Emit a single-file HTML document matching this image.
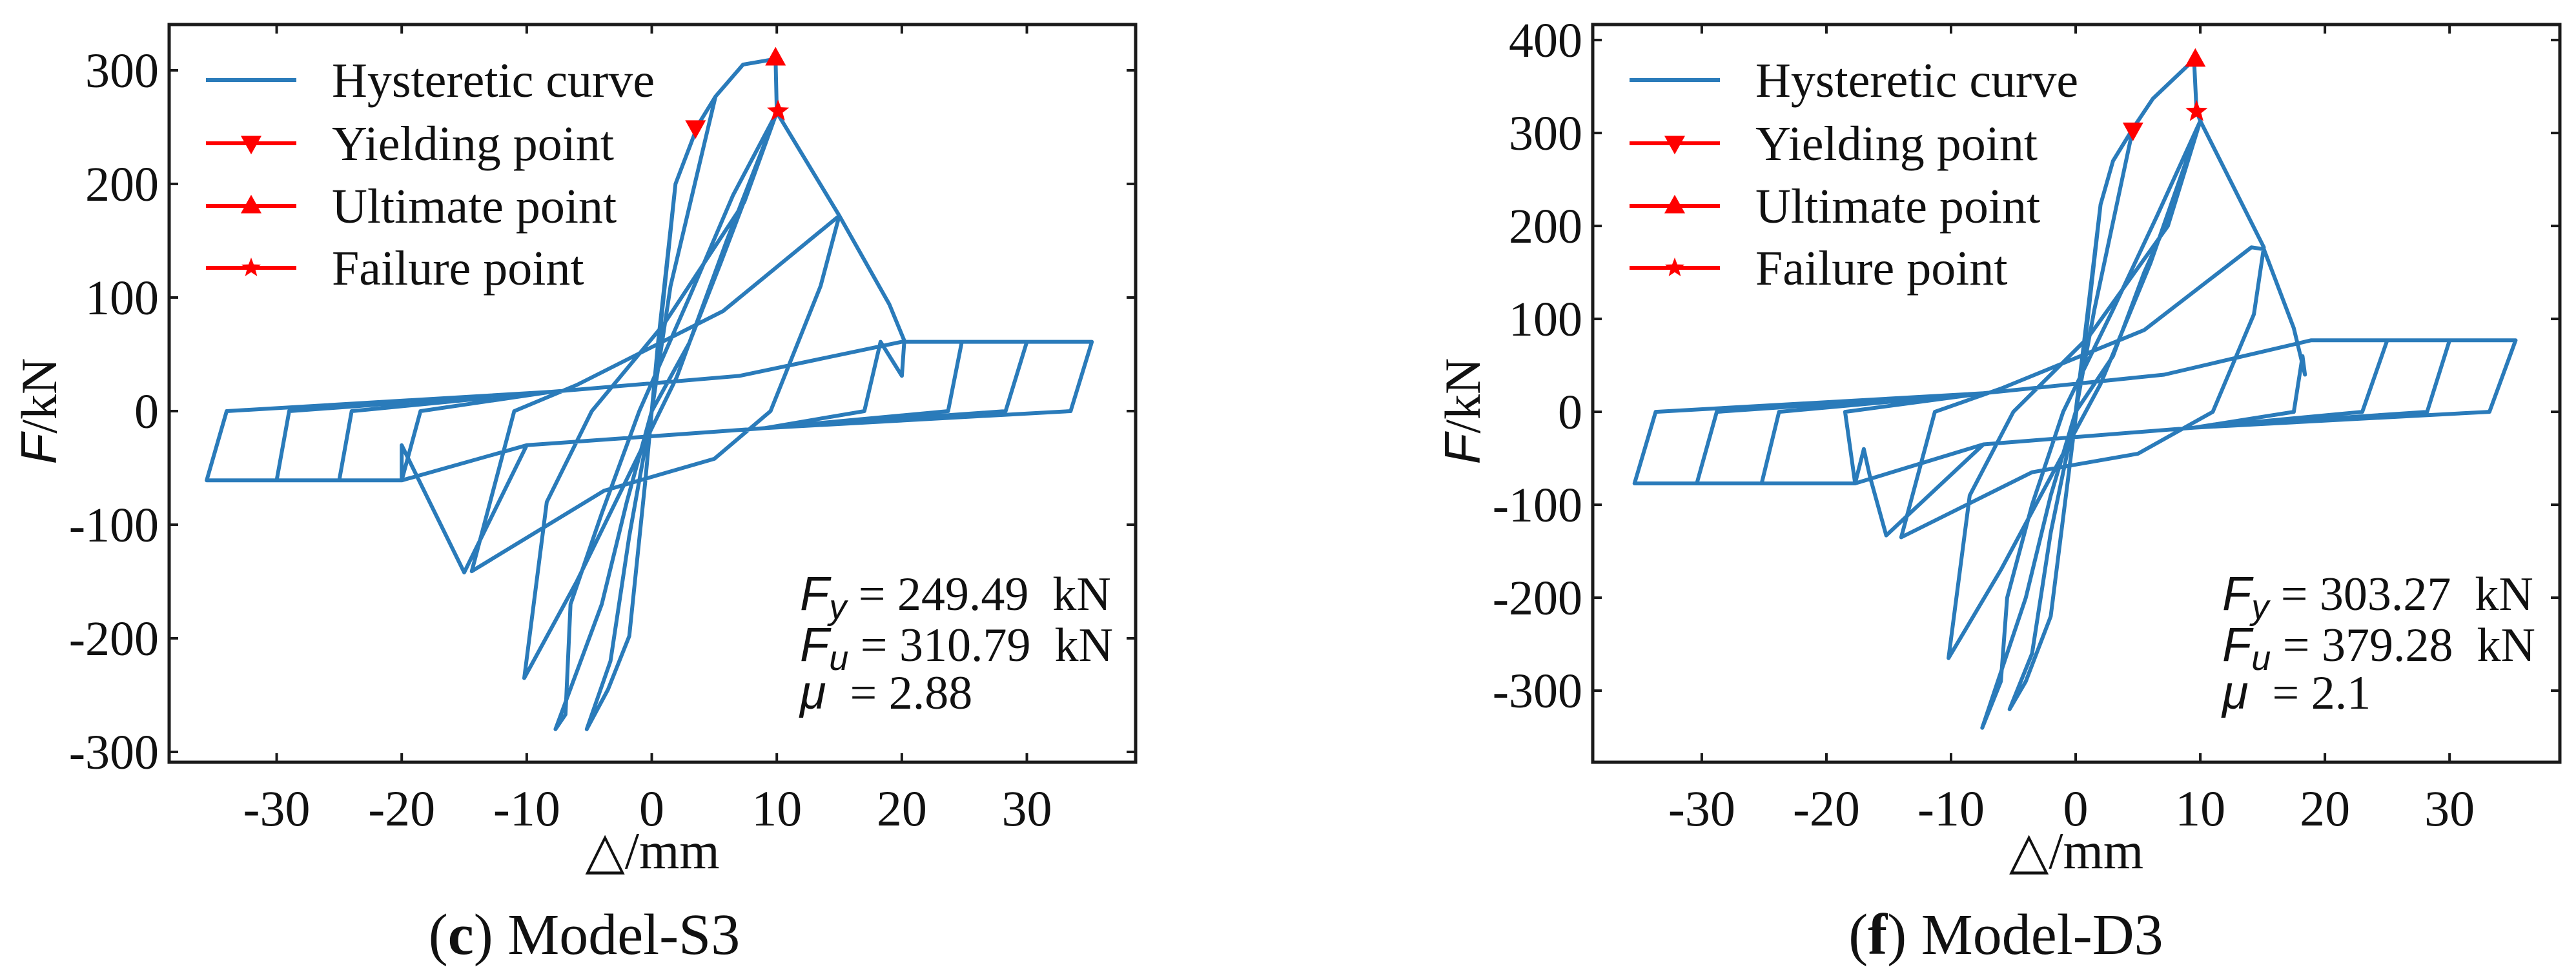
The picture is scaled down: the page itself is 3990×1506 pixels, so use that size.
<!DOCTYPE html>
<html><head><meta charset="utf-8">
<style>
html,body{margin:0;padding:0;background:#fff;}
svg{display:block;}
text{font-family:"Liberation Serif",serif;fill:#111;}
</style></head>
<body>
<svg id="fig" width="3990" height="1506" viewBox="0 0 3990 1506" xmlns="http://www.w3.org/2000/svg"></svg>
<script>
// ---- data ----
const xTickLabels = [-30, -20, -10, 0, 10, 20, 30];
const s3YTicks = [-300, -200, -100, 0, 100, 200, 300];
const d3YTicks = [-300, -200, -100, 0, 100, 200, 300, 400];

const s3Disp = [0,1.9,3.7,5.1, 1.5,0,-1.8,-3.3,-5.2, -3.5,-1.8,-0.5,0.5,1.9,3.7,5.1,7.3,9.9,10,
 7.4,5.5,3,0,-2,-4,-7.7, -6.9,-6.5,-4,-1,3,6.5,10, 6,2,-2,-6,-10.2, -8.4,-4.8,1,7.4,10,
 15,13.5,9.5,5,-3.8,-14.4, -11,-6,5.7,15, 19,20.2,20,18.3,17,9,-10,-15,-17.5,-20,-20,
 -18.5,-8,7,20,24.8,23.7,9,-10,-20,-25,-24,-8,7,20,30,28.3,9,-10,-20,-30,-29,-8,7,20,35.2,33.5,9,-10,-20,-35.6,-34,-8,7,20];
const s3Force = [0,200,252,277, 110,0,-110,-220,-280, -245,-198,-60,60,200,252,277,305,310,263,
 185,130,60,0,-80,-170,-280, -267,-170,-90,0,100,190,263, 150,30,-60,-150,-235, -80,0,77,184,263,
 172,110,0,-42,-70,-141, 0,23,88,172, 94,62,31,61,0,-15,-30,-142,-86,-30,-61,
 0,17,31,61,61,0,-15,-30,-61,-61,0,17,31,61,61,0,-15,-30,-61,-61,0,17,31,61,61,0,-15,-30,-61,-61,0,17,31,61];

const d3Disp = [0,2,3,4.6, 1.5,0,-2,-3.5,-5.3, -4,-2,-0.5,0.8,2,3,4.6,6.2,9.5,9.7,10,
 7.5,5.5,3,0,-2,-4,-7.5, -6,-5.5,-3.5,-1,3,6.5,10, 6,2,-2,-6,-10.2, -8.5,-5,1,7.4,10,
 15.1,14.3,11,5,-3.5,-14, -11.3,-6,5.5,14.1, 15.1,17.5,18.4,18.2,17.5,9.5,-7.4,-15.2,-16.5,-17,-17.7,
 -18.5,-7.4,7.1,18.9,25,23,9.5,-7.4,-17.7,-25.2,-23.8,-7.4,7.1,18.9,30,28.2,9.5,-7.4,-17.7,-30.4,-28.8,-7.4,7.1,18.9,35.3,33.2,9.5,-7.4,-17.7,-35.4,-33.7,-7.4,7.1,18.9];
const d3Force = [0,223,270,305, 110,0,-130,-260,-320, -290,-220,-60,80,223,270,305,337,379,323,313,
 210,150,60,0,-90,-200,-340, -290,-200,-100,0,110,210,313, 160,30,-70,-170,-265, -90,0,80,200,313,
 177,105,0,-45,-65,-135, 0,25,88,177, 175,90,40,60,0,-17,-35,-133,-70,-40,-77,
 0,20,40,77,77,0,-17,-35,-77,-77,0,20,40,77,77,0,-17,-35,-77,-77,0,20,40,77,77,0,-17,-35,-77,-77,0,20,40,77];

const s3Yield = [3.5, 249.49], s3Ult = [9.9, 310.79], s3Fail = [10.1, 264];
const d3Yield = [4.6, 303.27], d3Ult = [9.6, 379.28], d3Fail = [9.7, 323];

const legendLabels = ["Hysteretic curve","Yielding point","Ultimate point","Failure point"];

// ---- drawing ----
const NS = "http://www.w3.org/2000/svg";
const svg = document.getElementById('fig');
function mk(tag, attrs, parent){
  const e = document.createElementNS(NS, tag);
  for (const k in attrs) e.setAttribute(k, attrs[k]);
  (parent||svg).appendChild(e);
  return e;
}
function lin(d0,d1,r0,r1){ return v => r0 + (v-d0)*(r1-r0)/(d1-d0); }

function tri(g, cx, cy, s, up){
  const h = s*0.9;
  const pts = up ? [[cx,cy-h*0.6],[cx-s/2,cy+h*0.4],[cx+s/2,cy+h*0.4]]
                 : [[cx,cy+h*0.6],[cx-s/2,cy-h*0.4],[cx+s/2,cy-h*0.4]];
  return mk('polygon',{points:pts.map(p=>p.join(',')).join(' '),fill:'#ff0000'},g);
}
function star(g, cx, cy, r){
  const pts=[];
  for(let i=0;i<10;i++){const a=-Math.PI/2+i*Math.PI/5;const rr=i%2?r*0.42:r;pts.push([cx+rr*Math.cos(a),cy+rr*Math.sin(a)]);}
  return mk('polygon',{points:pts.map(p=>p.join(',')).join(' '),fill:'#ff0000'},g);
}

function panel(cfg){
  const g = mk('g',{});
  
  
  const X = lin(cfg.xd[0],cfg.xd[1],cfg.x0,cfg.x1);
  const Y = lin(cfg.yd[0],cfg.yd[1],cfg.y1,cfg.y0);
  let d = '';
  for(let i=0;i<cfg.disp.length;i++){ d += (i?'L':'M') + X(cfg.disp[i]).toFixed(1)+','+Y(cfg.force[i]).toFixed(1); }
  const c = mk('path',{d:d,fill:'none',stroke:'#2a7bba','stroke-width':6,'stroke-linejoin':'round'},g);
  
  
  const my = tri(g, X(cfg.yieldPt[0]), Y(cfg.yieldPt[1]), 32, false);
  
  
  const mu = tri(g, X(cfg.ultPt[0]), Y(cfg.ultPt[1]), 32, true);
  
  
  const mf = star(g, X(cfg.failPt[0]), Y(cfg.failPt[1]), 18);
  
  
  const fr = mk('rect',{x:cfg.x0,y:cfg.y0,width:cfg.x1-cfg.x0,height:cfg.y1-cfg.y0,fill:'none',stroke:'#1a1a1a','stroke-width':5},g);
  
  
  xTickLabels.forEach(v=>{
    const x = X(v);
    mk('line',{x1:x,x2:x,y1:cfg.y1,y2:cfg.y1-14,stroke:'#1a1a1a','stroke-width':4},g);
    mk('line',{x1:x,x2:x,y1:cfg.y0,y2:cfg.y0+14,stroke:'#1a1a1a','stroke-width':4},g);
    const t = mk('text',{x:x,y:cfg.y1+98,'text-anchor':'middle','font-size':78},g);
    t.textContent = v;
    
    
  });
  cfg.yTicks.forEach(v=>{
    const y = Y(v);
    mk('line',{x1:cfg.x0,x2:cfg.x0+14,y1:y,y2:y,stroke:'#1a1a1a','stroke-width':4},g);
    mk('line',{x1:cfg.x1,x2:cfg.x1-14,y1:y,y2:y,stroke:'#1a1a1a','stroke-width':4},g);
    const t = mk('text',{x:cfg.x0-16,y:y+26,'text-anchor':'end','font-size':76},g);
    t.textContent = v;
    
    
  });
  const xt = mk('text',{x:(cfg.x0+cfg.x1)/2,y:1345,'text-anchor':'middle','font-size':80},g);
  xt.textContent = '△/mm';
  
  
  const yt = mk('text',{x:0,y:0,'text-anchor':'middle','font-size':78,transform:'translate('+(cfg.x0-175)+',637) rotate(-90)'},g);
  yt.innerHTML = '<tspan font-family="Liberation Sans, sans-serif" font-style="italic">F</tspan>/kN';
  
  
  const lg = mk('g',{},g);
  
  
  const rows=[124,222,319,415];
  legendLabels.forEach((lab,i)=>{
    const ly = rows[i];
    const lx0 = cfg.x0+57, lx1 = cfg.x0+197;
    mk('line',{x1:lx0,x2:lx1,y1:ly,y2:ly,stroke:i?'#ff0000':'#2a7bba','stroke-width':6},lg);
    const mx=(lx0+lx1)/2;
    if(i===1) tri(lg,mx,ly,32,false);
    if(i===2) tri(lg,mx,ly,32,true);
    if(i===3) star(lg,mx,ly,16);
    const t = mk('text',{x:cfg.x0+252,y:ly+26,'font-size':76},lg);
    t.textContent = lab;
    
    
  });
  const ann = mk('g',{},g);
  
  
  const ax = cfg.annX;
  const lines = [
    ['y', '= '+cfg.fy+'  kN', 945],
    ['u', '= '+cfg.fu+'  kN', 1024],
  ];
  lines.forEach(l=>{
    const t = mk('text',{x:ax,y:l[2],'font-size':74},ann);
    t.innerHTML = '<tspan font-family="Liberation Sans, sans-serif" font-style="italic">F</tspan><tspan font-family="Liberation Sans, sans-serif" font-style="italic" font-size="54" dy="14">'+l[0]+'</tspan><tspan dy="-14" xml:space="preserve"> '+l[1]+'</tspan>';
  });
  const tm = mk('text',{x:ax,y:1098,'font-size':74},ann);
  tm.innerHTML = '<tspan font-family="Liberation Sans, sans-serif" font-style="italic">μ</tspan><tspan xml:space="preserve">  = '+cfg.mu+'</tspan>';
  const cap = mk('text',{x:cfg.capX,y:1478,'text-anchor':'middle','font-size':90},g);
  cap.innerHTML = '(<tspan font-weight="bold">'+cfg.capL+'</tspan>) '+cfg.capT;
  
  
}

panel({name:'panel-model-s3', x0:262,x1:1759,y0:38,y1:1181, xd:[-38.6,38.7], yd:[-309.1,340.3],
  disp:s3Disp, force:s3Force, yieldPt:s3Yield, ultPt:s3Ult, failPt:s3Fail, yTicks:s3YTicks,
  annX:1239, fy:'249.49', fu:'310.79', mu:'2.88', capX:905, capL:'c', capT:'Model-S3'});
panel({name:'panel-model-d3', x0:2467,x1:3965,y0:38,y1:1181, xd:[-38.75,38.85], yd:[-377,416.7],
  disp:d3Disp, force:d3Force, yieldPt:d3Yield, ultPt:d3Ult, failPt:d3Fail, yTicks:d3YTicks,
  annX:3442, fy:'303.27', fu:'379.28', mu:'2.1', capX:3107, capL:'f', capT:'Model-D3'});
</script>
</body></html>
